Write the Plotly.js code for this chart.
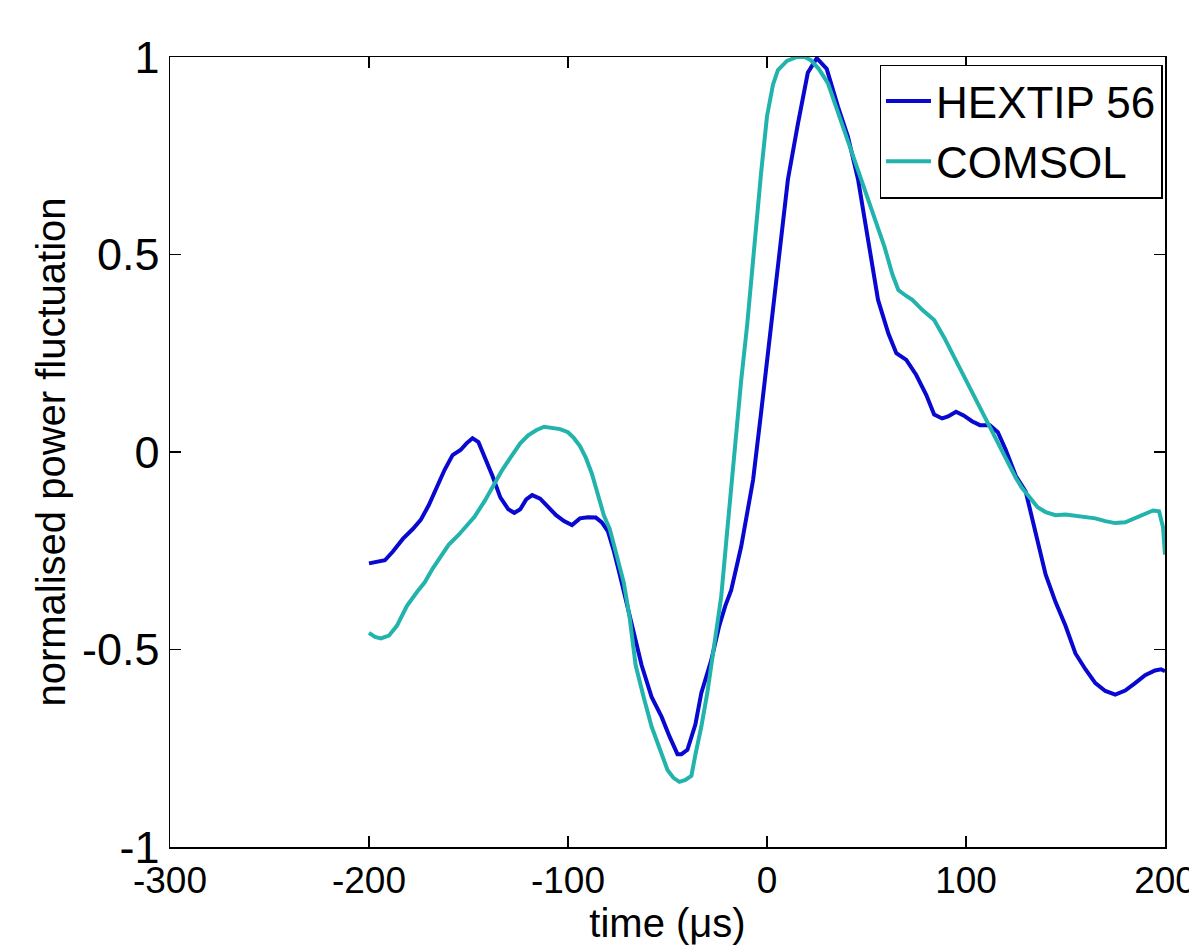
<!DOCTYPE html>
<html>
<head>
<meta charset="utf-8">
<script src="https://cdn.plot.ly/plotly-3.0.1.min.js"></script>
<style>html,body{margin:0;padding:0;background:#fff;}#chart{width:1189px;height:945px;}</style>
</head>
<body>
<div id="chart"></div>
<script>
const hextipName = "HEXTIP 56";
const hextipTime = [-200,-196,-192,-188,-183,-178,-174,-170,-166,-162,-158,-154,-151,-148,-145,-142,-138,-134,-130,-127,-124,-121,-118,-114,-110,-106,-102,-98,-94,-90,-86,-83,-80,-77,-74,-70,-67,-63,-58,-53,-49,-45,-43,-40,-36,-33,-28,-24,-21,-18,-13,-10,-7,-3,1,5,8,10.5,15.5,20.5,25,30,35.7,40.7,45.8,50.8,55.8,61,65,70,75,80,84,88,91,95,99,103,107,112,116,120,125,130,135,140,145,150,155,160,165,170,175,180,185,190,195,198,200];
const hextipValue = [-0.282,-0.278,-0.274,-0.252,-0.22,-0.195,-0.172,-0.135,-0.09,-0.045,-0.008,0.005,0.022,0.035,0.025,-0.01,-0.06,-0.115,-0.145,-0.154,-0.145,-0.12,-0.109,-0.118,-0.14,-0.16,-0.175,-0.185,-0.168,-0.165,-0.166,-0.178,-0.2,-0.25,-0.31,-0.39,-0.45,-0.54,-0.62,-0.67,-0.72,-0.765,-0.765,-0.754,-0.69,-0.61,-0.527,-0.44,-0.39,-0.35,-0.24,-0.155,-0.071,0.098,0.28,0.46,0.58,0.69,0.83,0.96,0.997,0.97,0.874,0.798,0.689,0.537,0.385,0.30,0.25,0.233,0.195,0.145,0.095,0.085,0.09,0.102,0.092,0.078,0.068,0.068,0.05,0.005,-0.06,-0.1,-0.2,-0.31,-0.38,-0.44,-0.51,-0.55,-0.585,-0.605,-0.614,-0.604,-0.585,-0.565,-0.553,-0.55,-0.555];

const comsolName = "COMSOL";
const comsolTime = [-200,-197,-194,-190,-186,-181,-176,-172,-168,-164,-160,-155,-151,-147,-142,-137,-133,-129,-124,-120,-116,-112,-108,-104,-100,-97,-94,-91,-88,-85,-82,-79,-75,-72,-69,-66,-62,-58,-54,-50,-47,-44,-41,-38,-36,-33,-30,-28,-25,-23,-20,-17,-13,-10,-8,-5,-3,0,3,5.5,10,15,19,22,26,30.6,35,39,43,47.4,51,55,59,63,66,70,73,78,84,89,93,97,101,105,109,113,117,121,125,128,132,136,140,145,150,155,160,165,170,175,180,185,190,194,197,199,200];
const comsolValue = [-0.458,-0.468,-0.472,-0.465,-0.44,-0.39,-0.355,-0.33,-0.295,-0.265,-0.235,-0.21,-0.185,-0.164,-0.125,-0.08,-0.045,-0.015,0.022,0.042,0.055,0.064,0.062,0.058,0.05,0.035,0.015,-0.015,-0.055,-0.11,-0.16,-0.195,-0.27,-0.33,-0.42,-0.54,-0.62,-0.695,-0.75,-0.805,-0.825,-0.835,-0.83,-0.82,-0.767,-0.695,-0.61,-0.54,-0.425,-0.366,-0.2,-0.03,0.18,0.32,0.435,0.6,0.705,0.85,0.93,0.967,0.99,1.0,1.0,0.992,0.97,0.934,0.87,0.807,0.75,0.689,0.63,0.575,0.52,0.45,0.41,0.395,0.385,0.36,0.334,0.29,0.25,0.21,0.17,0.13,0.09,0.05,0.01,-0.03,-0.065,-0.09,-0.115,-0.14,-0.152,-0.16,-0.158,-0.162,-0.165,-0.168,-0.175,-0.18,-0.178,-0.168,-0.158,-0.148,-0.15,-0.19,-0.26];

const xTicks = [-300,-200,-100,0,100,200];
const xTickText = ["-300","-200","-100","0","100","200"];
const yTicks = [-1,-0.5,0,0.5,1];
const yTickText = ["-1","-0.5","0","0.5","1"];
const xTitle = "time (μs)";
const yTitle = "normalised power fluctuation";

const font = "Liberation Sans, Arial, sans-serif";

const traces = [
  {x: hextipTime, y: hextipValue, name: hextipName, type: "scatter", mode: "lines",
   line: {color: "#0808d0", width: 4}},
  {x: comsolTime, y: comsolValue, name: comsolName, type: "scatter", mode: "lines",
   line: {color: "#22b3ad", width: 4}}
];

const layout = {
  width: 1189, height: 945,
  margin: {l: 170, r: 24, t: 57, b: 98},
  paper_bgcolor: "#ffffff", plot_bgcolor: "#ffffff",
  font: {family: font, size: 36, color: "#000"},
  showlegend: true,
  legend: {x: 0.9975, y: 0.9905, xanchor: "right", yanchor: "top",
    bgcolor: "#ffffff", bordercolor: "#000", borderwidth: 1.5,
    font: {family: font, size: 44, color: "#000"}, tracegroupgap: 0, itemwidth: 45},
  xaxis: {range: [-300, 200], tickvals: xTicks, ticktext: xTickText, ticks: "inside", ticklen: 11, tickwidth: 1.5,
    tickcolor: "#000", showline: true, linecolor: "#000", linewidth: 1.5, mirror: "ticks",
    showgrid: false, zeroline: false, ticklabeloverflow: "allow",
    tickfont: {family: font, size: 37, color: "#000"},
    title: {text: xTitle, font: {family: font, size: 40, color: "#000"}, standoff: 28}},
  yaxis: {range: [-1, 1], tickvals: yTicks, ticktext: yTickText, ticks: "inside", ticklen: 11, tickwidth: 1.5,
    tickcolor: "#000", showline: true, linecolor: "#000", linewidth: 1.5, mirror: "ticks",
    showgrid: false, zeroline: false, ticklabeloverflow: "allow",
    tickfont: {family: font, size: 45, color: "#000"},
    title: {text: yTitle, font: {family: font, size: 40, color: "#000"}, standoff: 4}}
};

Plotly.newPlot("chart", traces, layout, {displayModeBar: false, staticPlot: true});
</script>
</body>
</html>
